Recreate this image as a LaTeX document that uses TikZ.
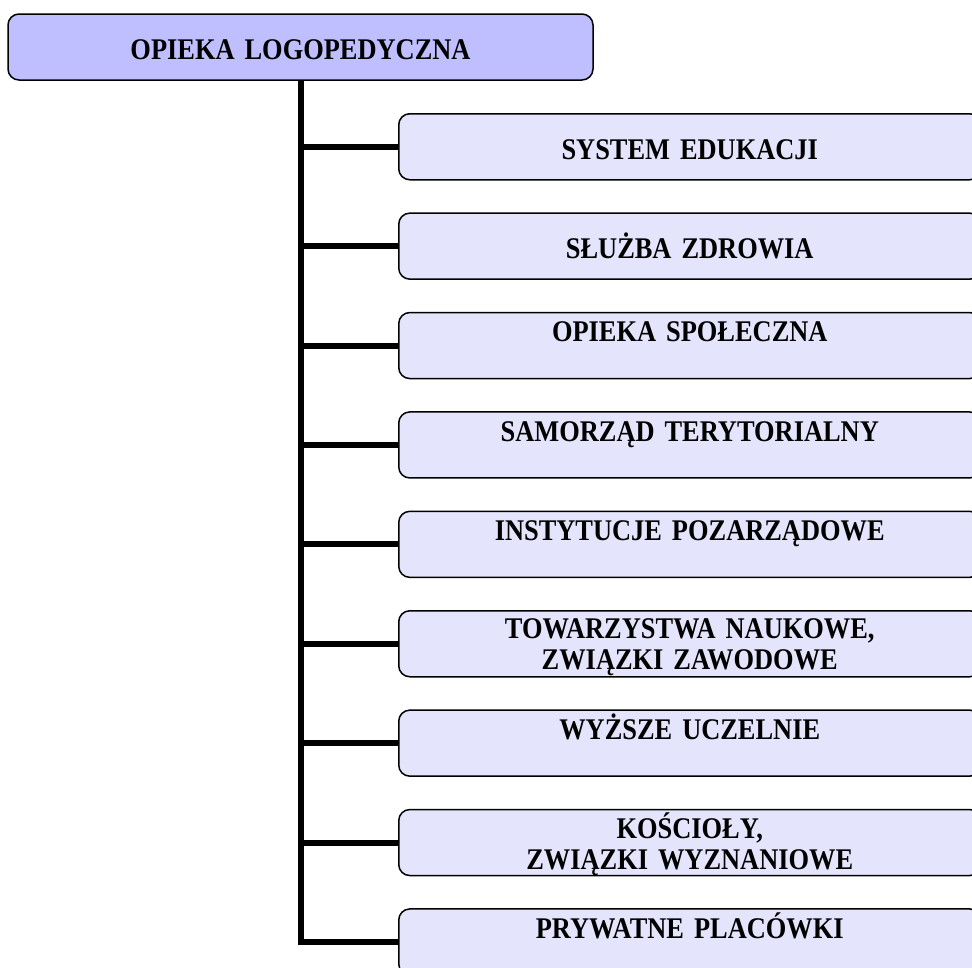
\documentclass[tikz,border=0pt]{standalone}
\usepackage{fontspec}
\newfontfamily\orgfont{Liberation Serif}[FakeStretch=0.88]
\usetikzlibrary{calc}
\definecolor{headfill}{RGB}{191,191,255}
\definecolor{unitfill}{RGB}{228,228,252}
\newcommand\orgtextfont{\orgfont\bfseries\fontsize{30}{31}\selectfont\spaceskip=4pt\relax}
\tikzset{
  orgbox/.style={draw=black, line width=1.5pt, rounded corners=11pt, inner sep=0pt},
  headbox/.style={orgbox, fill=headfill, minimum width=585pt, minimum height=66pt},
  unitbox/.style={orgbox, fill=unitfill, minimum width=582pt, minimum height=66pt, anchor=north west},
  orgtext/.style={font=\orgtextfont, text width=560pt,
    align=center, inner sep=0pt, anchor=base},
  trunk/.style={line width=6pt, line join=miter},
}
\begin{document}
\begin{tikzpicture}[x=1pt, y=-1pt]
  \useasboundingbox (0,0) rectangle (972,967);

  % top-level box
  \node[headbox] (head) at (300.5,47) {};
  \node[orgtext] (headtxt) at ($(head.center)+(0,12)$) {OPIEKA LOGOPEDYCZNA};

  % unit boxes
  \node[unitbox] (b1) at (398,113.0) {};
  \node[unitbox] (b2) at (398,212.4) {};
  \node[unitbox] (b3) at (398,311.8) {};
  \node[unitbox] (b4) at (398,411.2) {};
  \node[unitbox] (b5) at (398,510.6) {};
  \node[unitbox] (b6) at (398,610.0) {};
  \node[unitbox] (b7) at (398,709.4) {};
  \node[unitbox] (b8) at (398,808.8) {};
  \node[unitbox] (b9) at (398,908.2) {};

  % labels
  \node[orgtext] (t1) at ($(b1.north)+(0,46)$) {SYSTEM EDUKACJI};
  \node[orgtext] (t2) at ($(b2.north)+(0,46)$) {SŁUŻBA ZDROWIA};
  \node[orgtext] (t3) at ($(b3.north)+(0,30)$) {OPIEKA SPOŁECZNA};
  \node[orgtext] (t4) at ($(b4.north)+(0,30)$) {SAMORZĄD TERYTORIALNY};
  \node[orgtext] (t5) at ($(b5.north)+(0,30)$) {INSTYTUCJE POZARZĄDOWE};
  \node[orgtext] (t6) at ($(b6.north)+(0,28)$) {TOWARZYSTWA NAUKOWE,\\ ZWIĄZKI ZAWODOWE};
  \node[orgtext] (t7) at ($(b7.north)+(0,30)$) {WYŻSZE UCZELNIE};
  \node[orgtext] (t8) at ($(b8.north)+(0,30)$) {KOŚCIOŁY,\\ ZWIĄZKI WYZNANIOWE};
  \node[orgtext] (t9) at ($(b9.north)+(0,30)$) {PRYWATNE PLACÓWKI};

  % trunk and branches
  \draw[trunk] (head.south) |- (b9.west);
  \foreach \i in {1,...,8}
    \draw[trunk] (head.south |- b\i.west) -- (b\i.west);
\end{tikzpicture}
\end{document}
